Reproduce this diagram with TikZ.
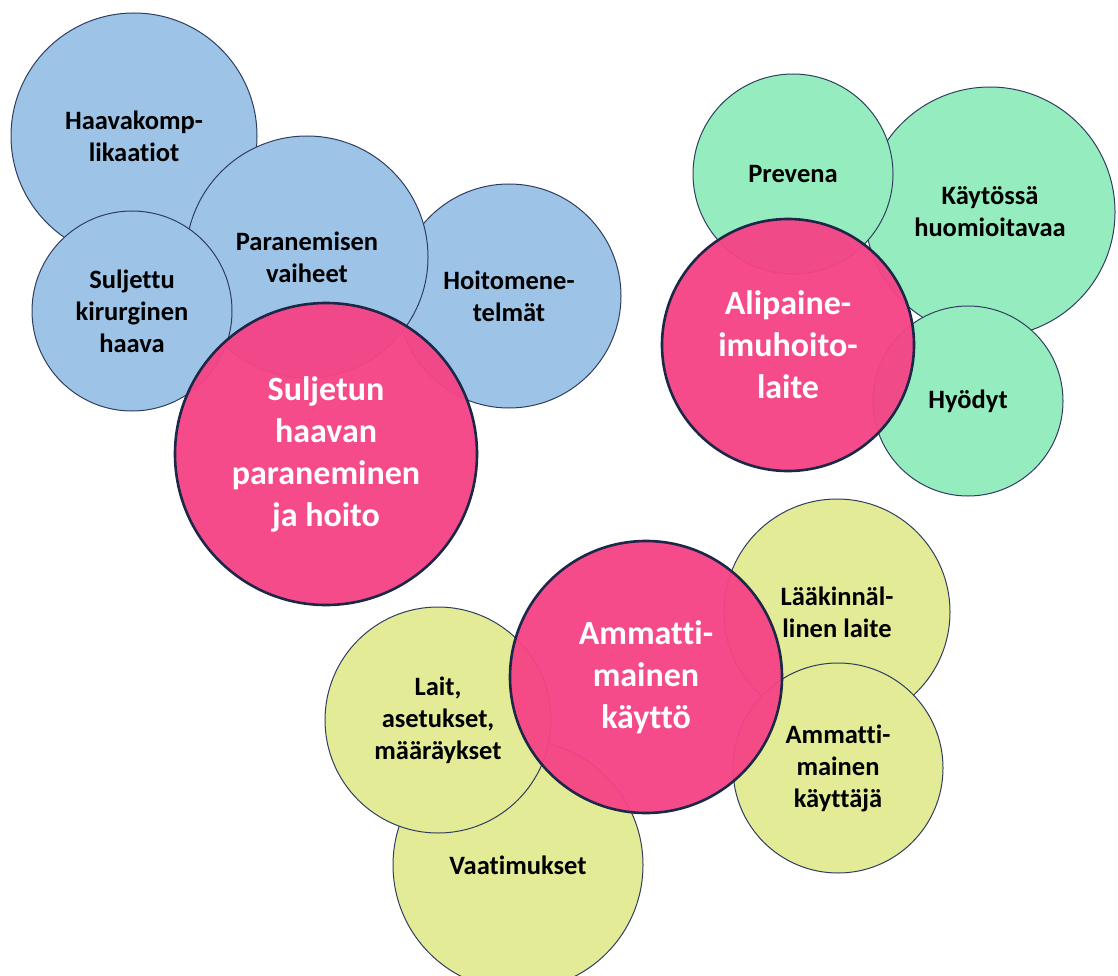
\documentclass[tikz,border=0pt]{standalone}
\usepackage{fontspec}
\setmainfont{Carlito}[Ligatures={NoCommon,NoContextual}]
\definecolor{bubbleblue}{RGB}{157,195,230}
\definecolor{bubblegreen}{RGB}{149,236,190}
\definecolor{bubbleyellow}{RGB}{227,235,150}
\definecolor{corepink}{RGB}{245,68,134}
\definecolor{bubbleedge}{RGB}{47,62,96}
\definecolor{coreedge}{RGB}{28,40,72}
\tikzset{
  bubble/.style={circle, draw=bubbleedge, line width=1pt, inner sep=0pt, align=center,
    font=\bfseries\fontsize{26.5}{32}\selectfont},
  core/.style={circle, draw=coreedge, line width=2.6pt, fill=corepink, fill opacity=0.96,
    text opacity=1, text=white, inner sep=0pt, align=center,
    font=\bfseries\fontsize{34}{42}\selectfont},
}

\begin{document}
\begin{tikzpicture}[x=1pt, y=-1pt]

%page frame
\clip (0,0) rectangle (1118,976);

%blue group: wound healing and care
\node[bubble, fill=bubbleblue, minimum size=246pt] (haavakomp) at (134,136) {Haavakomp-\\likaatiot};
\node[bubble, fill=bubbleblue, minimum size=224pt] (hoitomene) at (509,296) {Hoitomene-\\telmät};
\node[bubble, fill=bubbleblue, minimum size=242pt] (paranemisen) at (307,257) {Paranemisen\\vaiheet};
\node[bubble, fill=bubbleblue, minimum size=200pt] (suljettu) at (132,311) {Suljettu\\kirurginen\\haava};
\node[core, minimum size=302pt] (suljetun) at (326,454) {Suljetun\\haavan\\paraneminen\\ja hoito};

%green group: the device
\node[bubble, fill=bubblegreen, minimum size=250pt] (kaytossa) at (990,212) {Käytössä\\huomioitavaa};
\node[bubble, fill=bubblegreen, minimum size=200pt] (prevena) at (793,174) {Prevena};
\node[bubble, fill=bubblegreen, minimum size=190pt] (hyodyt) at (968,401) {Hyödyt};
\node[core, minimum size=252pt] (alipaine) at (788,345) {Alipaine-\\imuhoito-\\laite};

%yellow group: professional use
\node[bubble, fill=bubbleyellow, minimum size=226pt] (laakinnal) at (837,612) {Lääkinnäl-\\linen laite};
\node[bubble, fill=bubbleyellow, minimum size=210pt] (kayttaja) at (838,768) {Ammatti-\\mainen\\käyttäjä};
\node[bubble, fill=bubbleyellow, minimum size=250pt] (vaatimukset) at (518,865) {Vaatimukset};
\node[bubble, fill=bubbleyellow, minimum size=226pt] (lait) at (438,720) {Lait,\\asetukset,\\määräykset};
\node[core, minimum size=272pt] (ammatti) at (646,677) {Ammatti-\\mainen\\käyttö};

\end{tikzpicture}
\end{document}
